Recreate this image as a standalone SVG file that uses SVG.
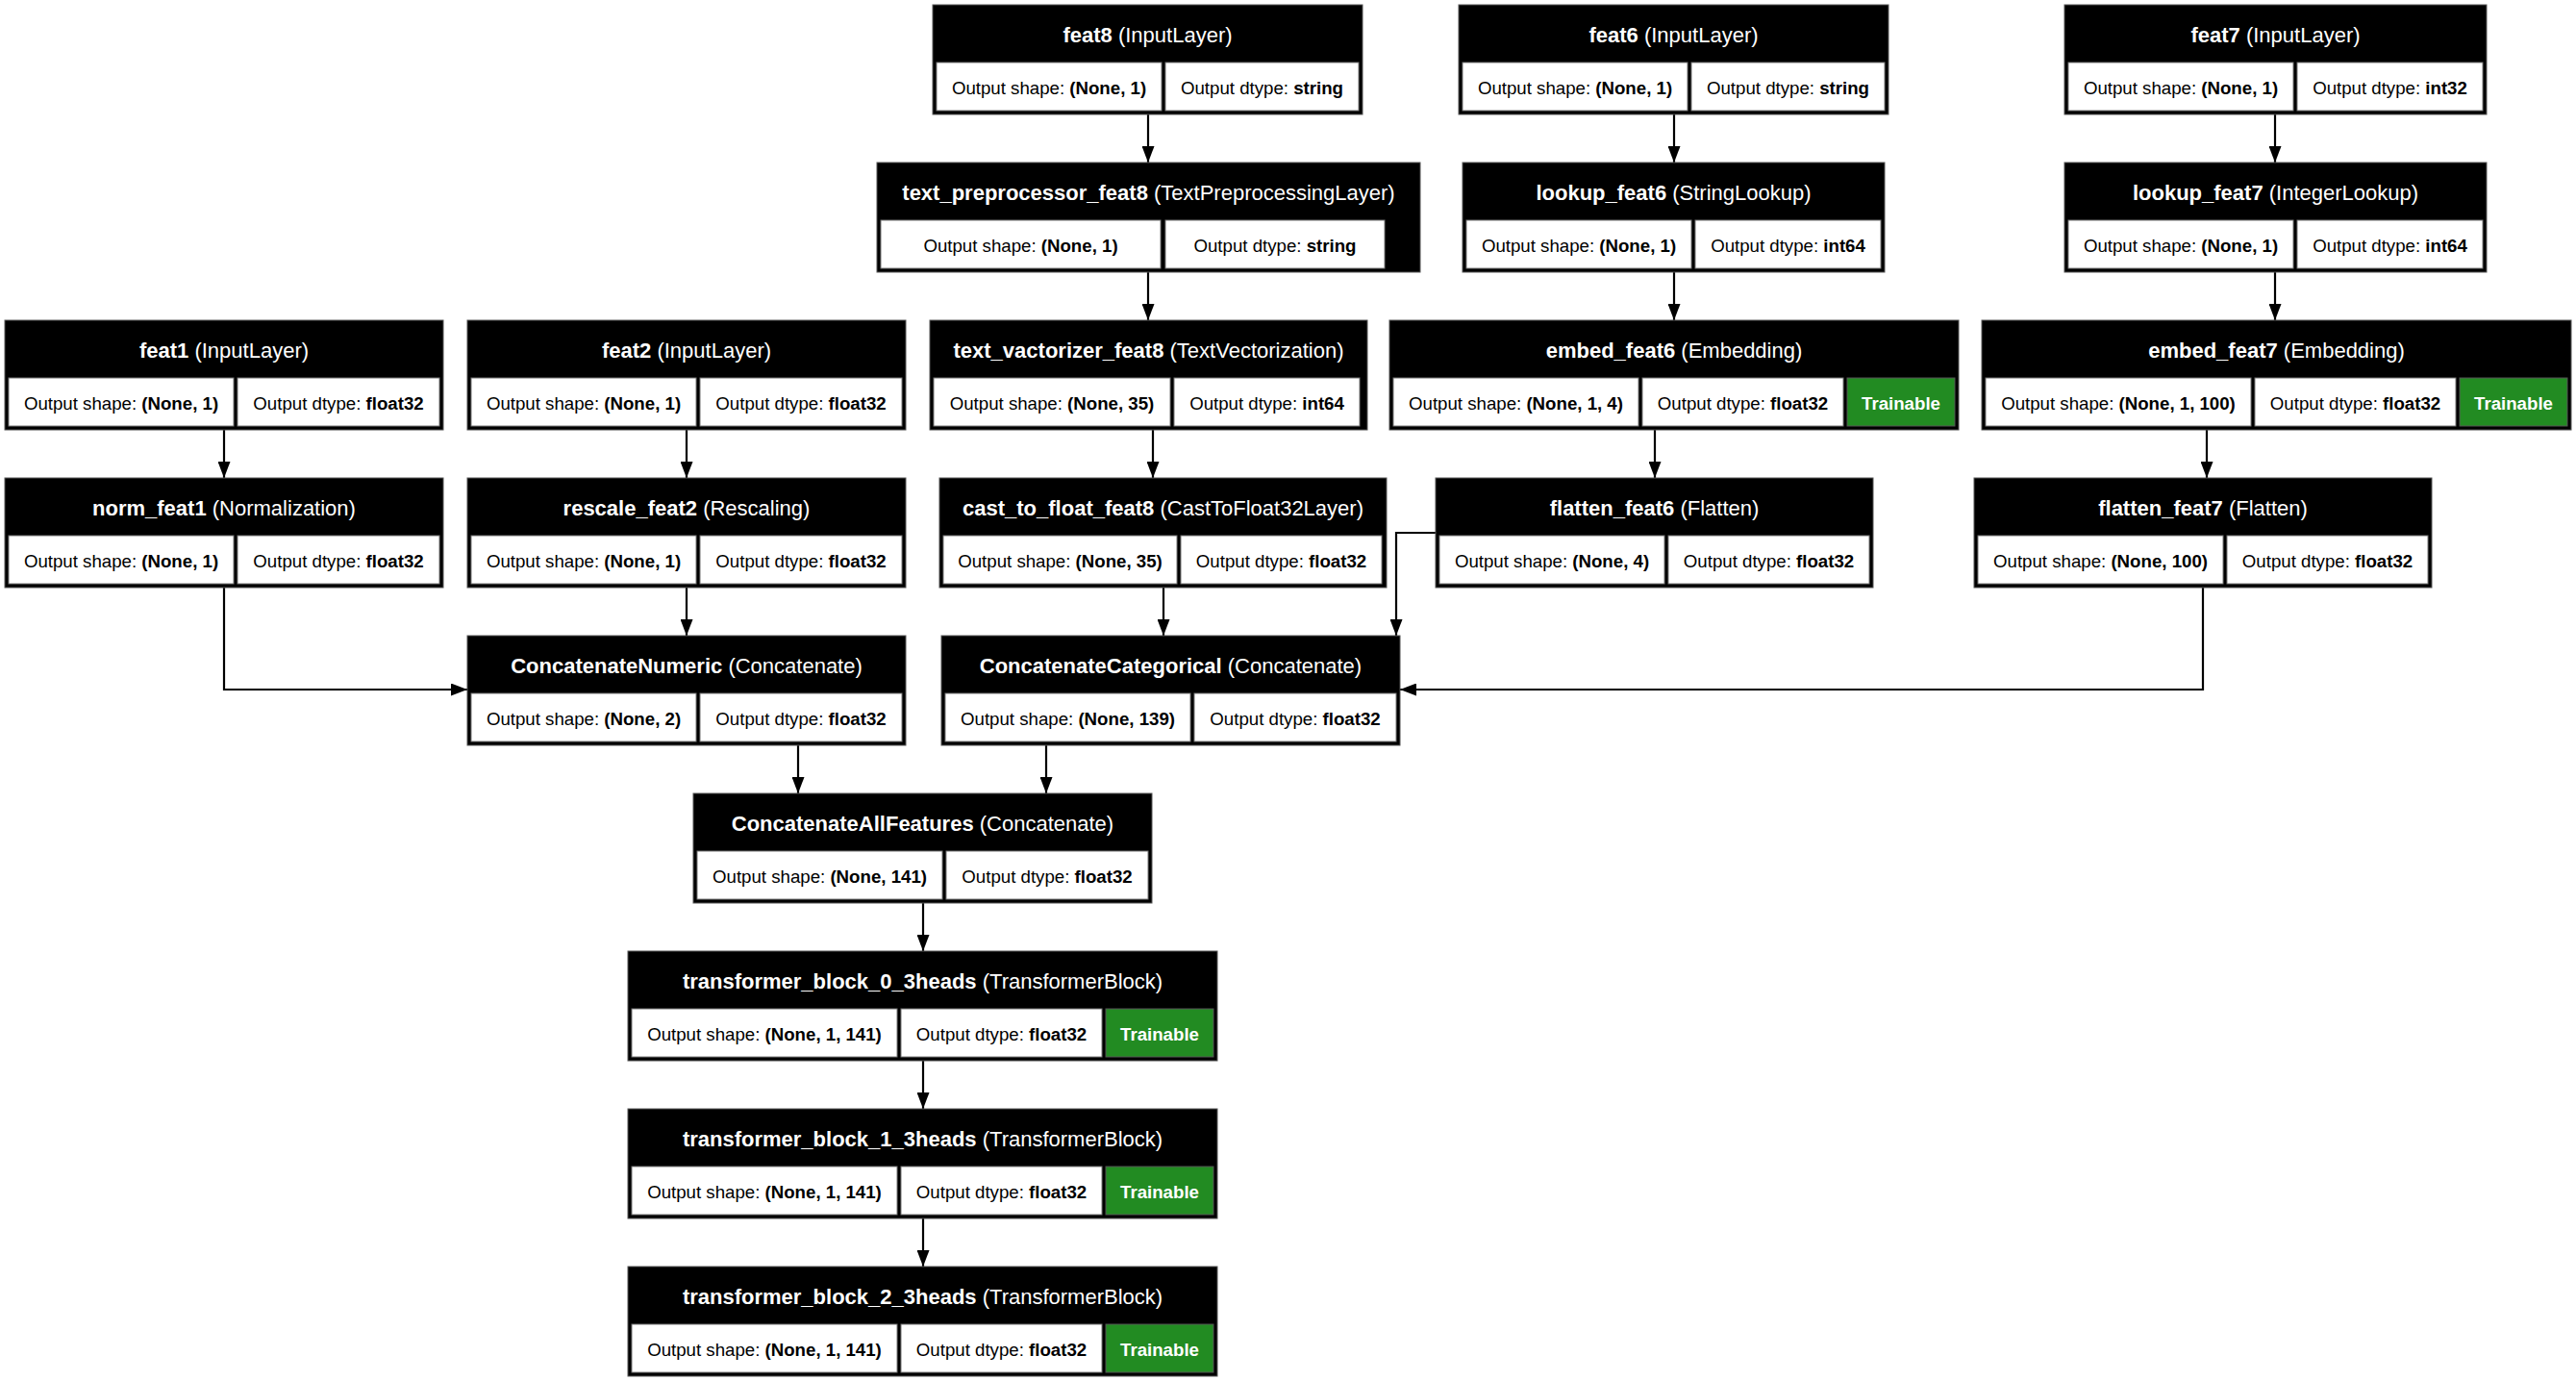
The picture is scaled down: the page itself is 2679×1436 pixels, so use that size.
<svg xmlns="http://www.w3.org/2000/svg" width="2679" height="1436" viewBox="0 0 2679 1436">
<style>
.box{fill:#000;stroke:#555;stroke-width:1}
.cell{fill:#fff;stroke:#777;stroke-width:1}
.tr{fill:#228b22;stroke:#555;stroke-width:1}
.h{font-family:"Liberation Sans",Arial,sans-serif;font-size:22px;fill:#fff;text-anchor:middle}
.c{font-family:"Liberation Sans",Arial,sans-serif;font-size:18.67px;fill:#000;text-anchor:middle}
.tt{font-family:"Liberation Sans",Arial,sans-serif;font-size:18.67px;fill:#fff;font-weight:bold;text-anchor:middle}
.b{font-weight:bold}
.e{fill:none;stroke:#000;stroke-width:2.2;marker-end:url(#arr)}
</style>
<defs>
<marker id="arr" markerUnits="userSpaceOnUse" markerWidth="17" markerHeight="13" refX="17" refY="6.5" orient="auto">
<path d="M0,0 L17,6.5 L0,13 Z" fill="#000"/>
</marker>
</defs>
<rect width="2679" height="1436" fill="#fff"/>

<g id="edges">
<path class="e" d="M1194,119 V169"/>
<path class="e" d="M1194,283 V333"/>
<path class="e" d="M1199,447 V497"/>
<path class="e" d="M1741,119 V169"/>
<path class="e" d="M1741,283 V333"/>
<path class="e" d="M1721,447 V497"/>
<path class="e" d="M2366,119 V169"/>
<path class="e" d="M2366,283 V333"/>
<path class="e" d="M2295,447 V497"/>
<path class="e" d="M233,447 V497"/>
<path class="e" d="M714,447 V497"/>
<path class="e" d="M233,611 V717 H486"/>
<path class="e" d="M714,611 V661"/>
<path class="e" d="M1210,611 V661"/>
<path class="e" d="M1493,554 H1452 V661"/>
<path class="e" d="M2291,611 V717 H1456"/>
<path class="e" d="M830,775 V825"/>
<path class="e" d="M1088,775 V825"/>
<path class="e" d="M960,939 V989"/>
<path class="e" d="M960,1103 V1153"/>
<path class="e" d="M960,1267 V1317"/>
</g>

<g id="feat8">
<rect class="box" x="970" y="5" width="447" height="114"/>
<text class="h" x="1193.5" y="44"><tspan class="b">feat8</tspan> (InputLayer)</text>
<rect class="cell" x="974" y="65" width="234" height="50"/>
<text class="c" x="1091" y="97.5">Output shape: <tspan class="b">(None, 1)</tspan></text>
<rect class="cell" x="1212" y="65" width="201" height="50"/>
<text class="c" x="1312.5" y="97.5">Output dtype: <tspan class="b">string</tspan></text>
</g>

<g id="text_preprocessor_feat8">
<rect class="box" x="912" y="169" width="565" height="114"/>
<text class="h" x="1194.5" y="208"><tspan class="b">text_preprocessor_feat8</tspan> (TextPreprocessingLayer)</text>
<rect class="cell" x="916" y="229" width="291" height="50"/>
<text class="c" x="1061.5" y="261.5">Output shape: <tspan class="b">(None, 1)</tspan></text>
<rect class="cell" x="1212" y="229" width="228" height="50"/>
<text class="c" x="1326" y="261.5">Output dtype: <tspan class="b">string</tspan></text>
</g>

<g id="text_vactorizer_feat8">
<rect class="box" x="967" y="333" width="455" height="114"/>
<text class="h" x="1194.5" y="372"><tspan class="b">text_vactorizer_feat8</tspan> (TextVectorization)</text>
<rect class="cell" x="971" y="393" width="246" height="50"/>
<text class="c" x="1094" y="425.5">Output shape: <tspan class="b">(None, 35)</tspan></text>
<rect class="cell" x="1221" y="393" width="193" height="50"/>
<text class="c" x="1317.5" y="425.5">Output dtype: <tspan class="b">int64</tspan></text>
</g>

<g id="cast_to_float_feat8">
<rect class="box" x="977" y="497" width="465" height="114"/>
<text class="h" x="1209.5" y="536"><tspan class="b">cast_to_float_feat8</tspan> (CastToFloat32Layer)</text>
<rect class="cell" x="981" y="557" width="243" height="50"/>
<text class="c" x="1102.5" y="589.5">Output shape: <tspan class="b">(None, 35)</tspan></text>
<rect class="cell" x="1228" y="557" width="209" height="50"/>
<text class="c" x="1332.5" y="589.5">Output dtype: <tspan class="b">float32</tspan></text>
</g>

<g id="feat6">
<rect class="box" x="1517" y="5" width="447" height="114"/>
<text class="h" x="1740.5" y="44"><tspan class="b">feat6</tspan> (InputLayer)</text>
<rect class="cell" x="1521" y="65" width="234" height="50"/>
<text class="c" x="1638" y="97.5">Output shape: <tspan class="b">(None, 1)</tspan></text>
<rect class="cell" x="1759" y="65" width="201" height="50"/>
<text class="c" x="1859.5" y="97.5">Output dtype: <tspan class="b">string</tspan></text>
</g>

<g id="lookup_feat6">
<rect class="box" x="1521" y="169" width="439" height="114"/>
<text class="h" x="1740.5" y="208"><tspan class="b">lookup_feat6</tspan> (StringLookup)</text>
<rect class="cell" x="1525" y="229" width="234" height="50"/>
<text class="c" x="1642" y="261.5">Output shape: <tspan class="b">(None, 1)</tspan></text>
<rect class="cell" x="1763" y="229" width="193" height="50"/>
<text class="c" x="1859.5" y="261.5">Output dtype: <tspan class="b">int64</tspan></text>
</g>

<g id="embed_feat6">
<rect class="box" x="1445" y="333" width="592" height="114"/>
<text class="h" x="1741" y="372"><tspan class="b">embed_feat6</tspan> (Embedding)</text>
<rect class="cell" x="1449" y="393" width="255" height="50"/>
<text class="c" x="1576.5" y="425.5">Output shape: <tspan class="b">(None, 1, 4)</tspan></text>
<rect class="cell" x="1708" y="393" width="209" height="50"/>
<text class="c" x="1812.5" y="425.5">Output dtype: <tspan class="b">float32</tspan></text>
<rect class="tr" x="1921" y="393" width="112" height="50"/>
<text class="tt" x="1977" y="425.5">Trainable</text>
</g>

<g id="flatten_feat6">
<rect class="box" x="1493" y="497" width="455" height="114"/>
<text class="h" x="1720.5" y="536"><tspan class="b">flatten_feat6</tspan> (Flatten)</text>
<rect class="cell" x="1497" y="557" width="234" height="50"/>
<text class="c" x="1614" y="589.5">Output shape: <tspan class="b">(None, 4)</tspan></text>
<rect class="cell" x="1735" y="557" width="209" height="50"/>
<text class="c" x="1839.5" y="589.5">Output dtype: <tspan class="b">float32</tspan></text>
</g>

<g id="feat7">
<rect class="box" x="2147" y="5" width="439" height="114"/>
<text class="h" x="2366.5" y="44"><tspan class="b">feat7</tspan> (InputLayer)</text>
<rect class="cell" x="2151" y="65" width="234" height="50"/>
<text class="c" x="2268" y="97.5">Output shape: <tspan class="b">(None, 1)</tspan></text>
<rect class="cell" x="2389" y="65" width="193" height="50"/>
<text class="c" x="2485.5" y="97.5">Output dtype: <tspan class="b">int32</tspan></text>
</g>

<g id="lookup_feat7">
<rect class="box" x="2147" y="169" width="439" height="114"/>
<text class="h" x="2366.5" y="208"><tspan class="b">lookup_feat7</tspan> (IntegerLookup)</text>
<rect class="cell" x="2151" y="229" width="234" height="50"/>
<text class="c" x="2268" y="261.5">Output shape: <tspan class="b">(None, 1)</tspan></text>
<rect class="cell" x="2389" y="229" width="193" height="50"/>
<text class="c" x="2485.5" y="261.5">Output dtype: <tspan class="b">int64</tspan></text>
</g>

<g id="embed_feat7">
<rect class="box" x="2061" y="333" width="613" height="114"/>
<text class="h" x="2367.5" y="372"><tspan class="b">embed_feat7</tspan> (Embedding)</text>
<rect class="cell" x="2065" y="393" width="276" height="50"/>
<text class="c" x="2203" y="425.5">Output shape: <tspan class="b">(None, 1, 100)</tspan></text>
<rect class="cell" x="2345" y="393" width="209" height="50"/>
<text class="c" x="2449.5" y="425.5">Output dtype: <tspan class="b">float32</tspan></text>
<rect class="tr" x="2558" y="393" width="112" height="50"/>
<text class="tt" x="2614" y="425.5">Trainable</text>
</g>

<g id="flatten_feat7">
<rect class="box" x="2053" y="497" width="476" height="114"/>
<text class="h" x="2291" y="536"><tspan class="b">flatten_feat7</tspan> (Flatten)</text>
<rect class="cell" x="2057" y="557" width="255" height="50"/>
<text class="c" x="2184.5" y="589.5">Output shape: <tspan class="b">(None, 100)</tspan></text>
<rect class="cell" x="2316" y="557" width="209" height="50"/>
<text class="c" x="2420.5" y="589.5">Output dtype: <tspan class="b">float32</tspan></text>
</g>

<g id="feat1">
<rect class="box" x="5" y="333" width="456" height="114"/>
<text class="h" x="233" y="372"><tspan class="b">feat1</tspan> (InputLayer)</text>
<rect class="cell" x="9" y="393" width="234" height="50"/>
<text class="c" x="126" y="425.5">Output shape: <tspan class="b">(None, 1)</tspan></text>
<rect class="cell" x="247" y="393" width="210" height="50"/>
<text class="c" x="352" y="425.5">Output dtype: <tspan class="b">float32</tspan></text>
</g>

<g id="norm_feat1">
<rect class="box" x="5" y="497" width="456" height="114"/>
<text class="h" x="233" y="536"><tspan class="b">norm_feat1</tspan> (Normalization)</text>
<rect class="cell" x="9" y="557" width="234" height="50"/>
<text class="c" x="126" y="589.5">Output shape: <tspan class="b">(None, 1)</tspan></text>
<rect class="cell" x="247" y="557" width="210" height="50"/>
<text class="c" x="352" y="589.5">Output dtype: <tspan class="b">float32</tspan></text>
</g>

<g id="feat2">
<rect class="box" x="486" y="333" width="456" height="114"/>
<text class="h" x="714" y="372"><tspan class="b">feat2</tspan> (InputLayer)</text>
<rect class="cell" x="490" y="393" width="234" height="50"/>
<text class="c" x="607" y="425.5">Output shape: <tspan class="b">(None, 1)</tspan></text>
<rect class="cell" x="728" y="393" width="210" height="50"/>
<text class="c" x="833" y="425.5">Output dtype: <tspan class="b">float32</tspan></text>
</g>

<g id="rescale_feat2">
<rect class="box" x="486" y="497" width="456" height="114"/>
<text class="h" x="714" y="536"><tspan class="b">rescale_feat2</tspan> (Rescaling)</text>
<rect class="cell" x="490" y="557" width="234" height="50"/>
<text class="c" x="607" y="589.5">Output shape: <tspan class="b">(None, 1)</tspan></text>
<rect class="cell" x="728" y="557" width="210" height="50"/>
<text class="c" x="833" y="589.5">Output dtype: <tspan class="b">float32</tspan></text>
</g>

<g id="ConcatenateNumeric">
<rect class="box" x="486" y="661" width="456" height="114"/>
<text class="h" x="714" y="700"><tspan class="b">ConcatenateNumeric</tspan> (Concatenate)</text>
<rect class="cell" x="490" y="721" width="234" height="50"/>
<text class="c" x="607" y="753.5">Output shape: <tspan class="b">(None, 2)</tspan></text>
<rect class="cell" x="728" y="721" width="210" height="50"/>
<text class="c" x="833" y="753.5">Output dtype: <tspan class="b">float32</tspan></text>
</g>

<g id="ConcatenateCategorical">
<rect class="box" x="979" y="661" width="477" height="114"/>
<text class="h" x="1217.5" y="700"><tspan class="b">ConcatenateCategorical</tspan> (Concatenate)</text>
<rect class="cell" x="983" y="721" width="255" height="50"/>
<text class="c" x="1110.5" y="753.5">Output shape: <tspan class="b">(None, 139)</tspan></text>
<rect class="cell" x="1242" y="721" width="210" height="50"/>
<text class="c" x="1347" y="753.5">Output dtype: <tspan class="b">float32</tspan></text>
</g>

<g id="ConcatenateAllFeatures">
<rect class="box" x="721" y="825" width="477" height="114"/>
<text class="h" x="959.5" y="864"><tspan class="b">ConcatenateAllFeatures</tspan> (Concatenate)</text>
<rect class="cell" x="725" y="885" width="255" height="50"/>
<text class="c" x="852.5" y="917.5">Output shape: <tspan class="b">(None, 141)</tspan></text>
<rect class="cell" x="984" y="885" width="210" height="50"/>
<text class="c" x="1089" y="917.5">Output dtype: <tspan class="b">float32</tspan></text>
</g>

<g id="transformer_block_0_3heads">
<rect class="box" x="653" y="989" width="613" height="114"/>
<text class="h" x="959.5" y="1028"><tspan class="b">transformer_block_0_3heads</tspan> (TransformerBlock)</text>
<rect class="cell" x="657" y="1049" width="276" height="50"/>
<text class="c" x="795" y="1081.5">Output shape: <tspan class="b">(None, 1, 141)</tspan></text>
<rect class="cell" x="937" y="1049" width="209" height="50"/>
<text class="c" x="1041.5" y="1081.5">Output dtype: <tspan class="b">float32</tspan></text>
<rect class="tr" x="1150" y="1049" width="112" height="50"/>
<text class="tt" x="1206" y="1081.5">Trainable</text>
</g>

<g id="transformer_block_1_3heads">
<rect class="box" x="653" y="1153" width="613" height="114"/>
<text class="h" x="959.5" y="1192"><tspan class="b">transformer_block_1_3heads</tspan> (TransformerBlock)</text>
<rect class="cell" x="657" y="1213" width="276" height="50"/>
<text class="c" x="795" y="1245.5">Output shape: <tspan class="b">(None, 1, 141)</tspan></text>
<rect class="cell" x="937" y="1213" width="209" height="50"/>
<text class="c" x="1041.5" y="1245.5">Output dtype: <tspan class="b">float32</tspan></text>
<rect class="tr" x="1150" y="1213" width="112" height="50"/>
<text class="tt" x="1206" y="1245.5">Trainable</text>
</g>

<g id="transformer_block_2_3heads">
<rect class="box" x="653" y="1317" width="613" height="114"/>
<text class="h" x="959.5" y="1356"><tspan class="b">transformer_block_2_3heads</tspan> (TransformerBlock)</text>
<rect class="cell" x="657" y="1377" width="276" height="50"/>
<text class="c" x="795" y="1409.5">Output shape: <tspan class="b">(None, 1, 141)</tspan></text>
<rect class="cell" x="937" y="1377" width="209" height="50"/>
<text class="c" x="1041.5" y="1409.5">Output dtype: <tspan class="b">float32</tspan></text>
<rect class="tr" x="1150" y="1377" width="112" height="50"/>
<text class="tt" x="1206" y="1409.5">Trainable</text>
</g>
</svg>
